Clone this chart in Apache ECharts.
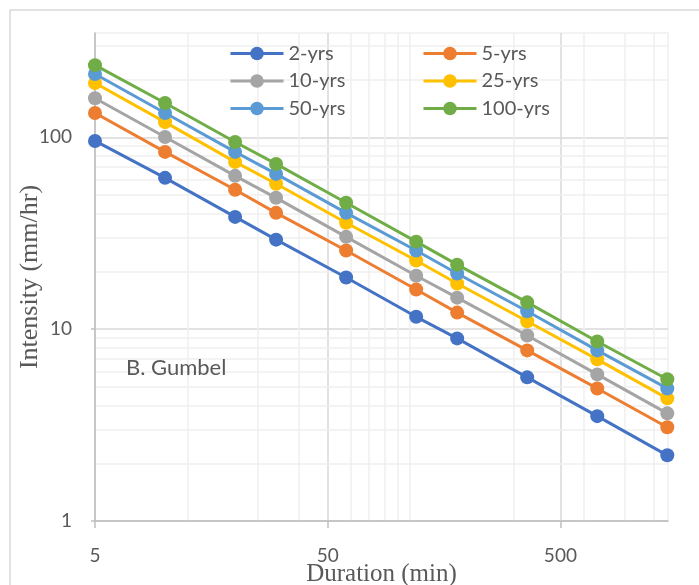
<!DOCTYPE html>
<html>
<head>
<meta charset="utf-8">
<script src="https://cdn.jsdelivr.net/npm/echarts@6/dist/echarts.min.js"></script>
<style>
  html, body { margin: 0; padding: 0; background: #fff; }
  #chart { width: 699px; height: 585px; }
</style>
</head>
<body>
<div id="chart"></div>
<script>
// durations (min) and intensities (mm/hr)
const durations = [5, 10, 20, 30, 60, 120, 180, 360, 720, 1440];
const seriesNames = ["2-yrs", "5-yrs", "10-yrs", "25-yrs", "50-yrs", "100-yrs"];
const yrs2 = [95.8, 61.5, 38.5, 29.3, 18.6, 11.6, 8.95, 5.61, 3.52, 2.2];
const yrs5 = [134, 84.0, 53.3, 40.4, 25.7, 16.1, 12.2, 7.75, 4.91, 3.08];
const yrs10 = [160, 100.5, 63.0, 48.4, 30.3, 19.0, 14.6, 9.27, 5.81, 3.64];
const yrs25 = [192, 120, 74.5, 57.3, 35.9, 22.8, 17.3, 11.0, 6.96, 4.36];
const yrs50 = [214, 134, 84.0, 64.5, 40.4, 25.7, 19.5, 12.4, 7.75, 4.91];
const yrs100 = [238, 151, 94.6, 72.7, 45.6, 28.6, 21.7, 13.8, 8.63, 5.48];
const xTicks = [5, 50, 500];
const yTicks = [1, 10, 100];
// minor grid lines as they appear in the original
const xMinor = [12.5, 25, 37.5, 62.5, 75, 87.5, 100, 112.5, 314, 628, 942, 1256];
const yMinor = [2, 3, 4, 5, 6, 7, 8, 9, 20, 30, 40, 50, 60, 70, 80, 90, 200, 300];

const colors = ["#4472C4", "#ED7D31", "#A5A5A5", "#FFC000", "#5B9BD5", "#70AD47"];
const allValues = [yrs2, yrs5, yrs10, yrs25, yrs50, yrs100];
const labelColor = "#595959";
const font = "Lato";

let chart = echarts.init(document.getElementById("chart"));

let series = seriesNames.map((name, k) => ({
  name,
  type: "line",
  z: 3,
  symbol: "circle",
  symbolSize: 14,
  color: colors[k],
  lineStyle: { width: 3 },
  data: durations.map((d, i) => [d, allValues[k][i]])
}));

// helper series only carrying the minor grid lines
series.unshift({
  type: "line",
  z: 0,
  data: [],
  silent: true,
  markLine: {
    z: 0,
    silent: true,
    symbol: "none",
    animation: false,
    label: { show: false },
    lineStyle: { color: "#efefef", type: "solid", width: 1.5 },
    data: xMinor.map(v => ({ xAxis: v })).concat(yMinor.map(v => ({ yAxis: v })))
  }
});

const legendCommon = {
  orient: "vertical",
  top: 38.5,
  itemWidth: 53,
  itemHeight: 17,
  itemGap: 7.5,
  lineStyle: { width: 3 },
  textStyle: { fontFamily: font, fontSize: 20, lineHeight: 17, color: labelColor }
};

chart.setOption({
  animation: false,
  grid: {
    left: 95, top: 33, width: 573, height: 488,
    outerBoundsMode: "none",
    containLabel: false,
    show: true, borderColor: "#efefef", borderWidth: 1.5
  },
  legend: [
    Object.assign({ left: 224, data: ["2-yrs", "10-yrs", "50-yrs"] }, legendCommon),
    Object.assign({ left: 417, data: ["5-yrs", "25-yrs", "100-yrs"] }, legendCommon)
  ],
  xAxis: {
    type: "log",
    logBase: 10,
    min: 5,
    max: 1450,
    name: "Duration (min)",
    nameLocation: "middle",
    nameMoveOverlap: false,
    nameGap: 41,
    nameTextStyle: { fontFamily: "Liberation Serif", fontSize: 25, color: labelColor },
    axisLine: { lineStyle: { color: "#bfbfbf", width: 1.5 } },
    axisTick: { show: true, length: 7, customValues: xTicks, lineStyle: { color: "#bfbfbf", width: 1.5 } },
    axisLabel: {
      customValues: xTicks,
      margin: 25,
      fontFamily: font, fontSize: 19, color: labelColor,
      formatter: v => String(Math.round(v))
    },
    splitLine: { show: true, lineStyle: { color: "#d9d9d9", width: 1.5 } },
    minorSplitLine: { show: false }
  },
  yAxis: {
    type: "log",
    logBase: 10,
    min: 1,
    max: 350,
    name: "Intensity (mm/hr)",
    nameLocation: "middle",
    nameMoveOverlap: false,
    nameGap: 52,
    nameTextStyle: { fontFamily: "Liberation Serif", fontSize: 26, color: labelColor },
    axisLine: { show: true, lineStyle: { color: "#bfbfbf", width: 1.5 } },
    axisTick: { show: true, length: 4, customValues: yTicks, lineStyle: { color: "#bfbfbf", width: 1.5 } },
    axisLabel: {
      customValues: yTicks,
      margin: 23,
      fontFamily: font, fontSize: 19, color: labelColor,
      formatter: v => String(Math.round(v))
    },
    splitLine: { show: true, lineStyle: { color: "#d9d9d9", width: 1.5 } }
  },
  graphic: [
    {
      type: "rect",
      silent: true,
      z: -10,
      shape: { x: 10, y: 10, width: 1000, height: 1000 },
      style: { fill: null, stroke: "#d9d9d9", lineWidth: 1.5 }
    },
    {
      type: "text",
      z: 100,
      left: 126,
      top: 357,
      style: { text: "B. Gumbel", font: '22px "Lato"', fill: labelColor }
    }
  ],
  series
});
</script>
</body>
</html>
